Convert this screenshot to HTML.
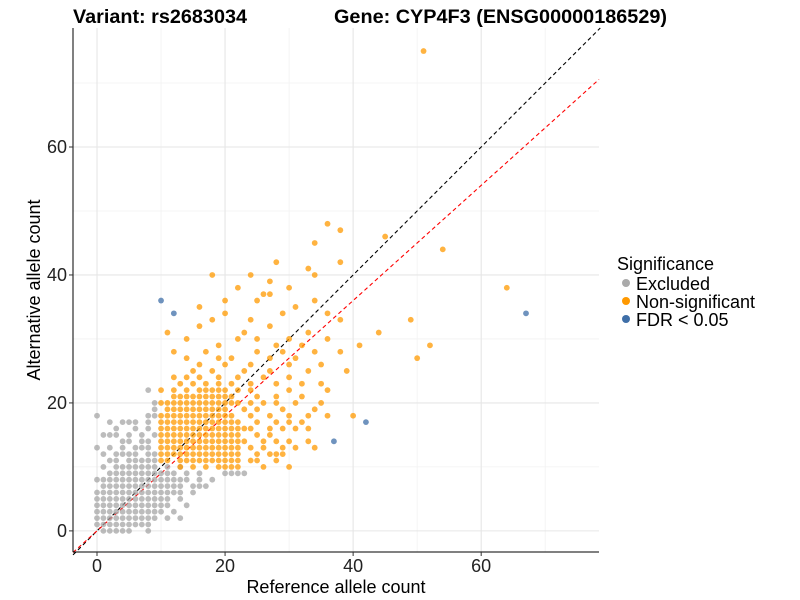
<!DOCTYPE html>
<html><head><meta charset="utf-8"><style>
body{margin:0;background:#fff;}
svg{display:block;font-family:"Liberation Sans",Arial,sans-serif;}
</style></head><body>
<svg id="chart" width="800" height="600">
<g id="grid"></g>
<g id="lines"></g>
<g id="pts"></g>
<g id="axes"></g>
<text x="73" y="23" font-size="19" font-weight="bold" textLength="174" lengthAdjust="spacingAndGlyphs">Variant: rs2683034</text>
<text x="334" y="23" font-size="19" font-weight="bold" textLength="333" lengthAdjust="spacingAndGlyphs">Gene: CYP4F3 (ENSG00000186529)</text>
<text x="336" y="593" font-size="18" text-anchor="middle">Reference allele count</text>
<text transform="translate(40,290) rotate(-90)" font-size="18" text-anchor="middle">Alternative allele count</text>
<g>
<text x="617" y="270" font-size="18">Significance</text>
<g><circle cx="626" cy="283" r="4" fill="#aaaaaa"/><text x="636" y="290" font-size="18">Excluded</text></g>
<g><circle cx="626" cy="301" r="4" fill="#ff9900"/><text x="636" y="308" font-size="18">Non-significant</text></g>
<g><circle cx="626" cy="319" r="4" fill="#3f6fa8"/><text x="636" y="326" font-size="18">FDR &lt; 0.05</text></g>
</g>
</svg>
<script>
const xTicks=[0,20,40,60];
const yTicks=[0,20,40,60];
const minorTicks=[10,30,50,70];
// excluded points: by y value -> list of x values
const excludedRows={0:[1,2,3,4,5,8],1:[0,1,2,3,4,5,6,7,8],2:[0,1,2,3,4,5,6,7,8,9,11,13],3:[0,1,2,3,4,5,6,7,8,9,10,12],4:[0,1,2,3,4,5,6,7,8,9,10,11,14],5:[0,1,2,3,4,5,6,7,8,9,10,11,13],6:[0,1,2,3,4,5,6,7,8,9,10,11,12,13,15],7:[1,2,3,4,5,6,7,8,9,10,11,12,13,15,16,17],8:[0,1,2,3,4,5,6,7,8,9,10,11,12,13,14,16,18],9:[2,3,4,5,6,7,8,9,10,11,12,14,16,20,21,22,23],10:[1,3,4,5,6,7,8,9,11,13],11:[2,3,5,6,7,8,9],12:[1,3,4,5,6,8,9],13:[0,2,4,6,7,8],14:[4,5,7,8],15:[1,2,3,5,7,9],16:[3,6,8],17:[2,4,5,6,8],18:[0,8,9],19:[9],20:[9],22:[8]};
const nonsigRows={10:[13,15,17,19,20,21,22,26,30],11:[10,11,13,14,15,16,17,18,19,20,21,22,24,25,28],12:[10,11,12,13,14,15,16,17,18,19,20,21,22,25,27,28,29],13:[10,11,12,13,14,15,16,17,18,19,20,21,22,24,26,29,31,34],14:[10,11,12,13,14,15,16,17,18,19,20,21,22,23,26,28,30,33],15:[10,11,12,13,14,15,16,17,18,19,20,21,22,25,27],16:[10,11,12,13,14,15,16,17,18,19,20,21,22,23,24,27,29,31,33],17:[10,11,12,13,14,15,16,17,18,19,20,21,22,25,28,30,32],18:[10,11,12,13,14,15,16,17,18,19,20,21,24,27,30,33,36,40],19:[11,12,13,14,15,16,17,18,19,20,23,25,29,34],20:[10,11,12,13,14,15,16,17,18,19,20,21,22,24,26,28,31,35],21:[12,13,14,15,16,17,18,19,20,21,25,28,32],22:[10,12,14,16,17,18,19,20,22,24,30,36],23:[13,15,17,19,21,24,28,32,35],24:[12,14,16,19,22,26,30],25:[15,18,23,27,33,39],26:[16,20,24,30,35],27:[14,19,21,27,31,50],28:[12,17,25,29,34,38],29:[19,28,32,41,52],30:[14,22,25,30,36],31:[11,23,33,44],32:[16,27],33:[18,24,38,49],34:[20,29,36],35:[16,31],36:[20,25,34],37:[26,27],38:[22,30,64],39:[27],40:[18,24,34],41:[33],42:[28,38],44:[54],45:[34],46:[45],47:[38],48:[36],75:[51]};
const fdrX=[10,12,67,42,37];
const fdrY=[36,34,34,17,14];
const redSlope=0.9;

const NS="http://www.w3.org/2000/svg";
const X0=73,X1=599,Y0=28,Y1=552;
const xmin=-3.75,xmax=78.4,ymin=-3.3,ymax=78.6;
const sx=v=>X0+(v-xmin)/(xmax-xmin)*(X1-X0);
const sy=v=>Y1-(v-ymin)/(ymax-ymin)*(Y1-Y0);
function mk(tag,attrs,parent){const e=document.createElementNS(NS,tag);for(const k in attrs)e.setAttribute(k,attrs[k]);parent.appendChild(e);return e;}
const grid=document.getElementById('grid');
minorTicks.forEach(t=>{
 const a=mk('line',{x1:sx(t),x2:sx(t),y1:Y0,y2:Y1,stroke:'#f2f2f2','stroke-width':0.8},grid);
 
 
 const b=mk('line',{x1:X0,x2:X1,y1:sy(t),y2:sy(t),stroke:'#f2f2f2','stroke-width':0.8},grid);
 
 
});
xTicks.forEach(t=>{
 const a=mk('line',{x1:sx(t),x2:sx(t),y1:Y0,y2:Y1,stroke:'#e6e6e6','stroke-width':1.1},grid);
 
 
});
yTicks.forEach(t=>{
 const a=mk('line',{x1:X0,x2:X1,y1:sy(t),y2:sy(t),stroke:'#e6e6e6','stroke-width':1.1},grid);
 
 
});
const pts=document.getElementById('pts');
function dot(x,y,fill,name){
 const c=mk('circle',{cx:sx(x),cy:sy(y),r:2.9,fill:fill,'fill-opacity':0.75},pts);
 
 
}
for(const y in excludedRows)excludedRows[y].forEach(x=>dot(x,+y,'#a6a6a6','excluded-point'));
for(const y in nonsigRows)nonsigRows[y].forEach(x=>dot(x,+y,'#ff9900','non-significant-point'));
fdrX.forEach((x,i)=>dot(x,fdrY[i],'#3f6fa8','fdr-point'));
const lines=document.getElementById('lines');
const l1=mk('line',{x1:sx(xmin),y1:sy(xmin),x2:sx(ymax),y2:sy(ymax),stroke:'#000','stroke-width':1.1,'stroke-dasharray':'4,3'},lines);


const l2=mk('line',{x1:sx(xmin),y1:sy(xmin*redSlope),x2:sx(xmax),y2:sy(xmax*redSlope),stroke:'#ff0000','stroke-width':1.1,'stroke-dasharray':'4,3'},lines);


const axes=document.getElementById('axes');
const ax=mk('line',{x1:X0,x2:X1,y1:Y1,y2:Y1,stroke:'#000','stroke-width':1},axes);


const ay=mk('line',{x1:X0,x2:X0,y1:Y0,y2:Y1,stroke:'#000','stroke-width':1},axes);


xTicks.forEach(t=>{
 mk('line',{x1:sx(t),x2:sx(t),y1:Y1,y2:Y1+4,stroke:'#333'},axes);
 const tx=mk('text',{x:sx(t),y:Y1+20,'font-size':18,'text-anchor':'middle',fill:'#222'},axes);
 tx.textContent=t;
 
 
});
yTicks.forEach(t=>{
 mk('line',{x1:X0-4,x2:X0,y1:sy(t),y2:sy(t),stroke:'#333'},axes);
 const tx=mk('text',{x:X0-6,y:sy(t)+6,'font-size':18,'text-anchor':'end',fill:'#222'},axes);
 tx.textContent=t;
 
 
});
</script>
</body></html>
